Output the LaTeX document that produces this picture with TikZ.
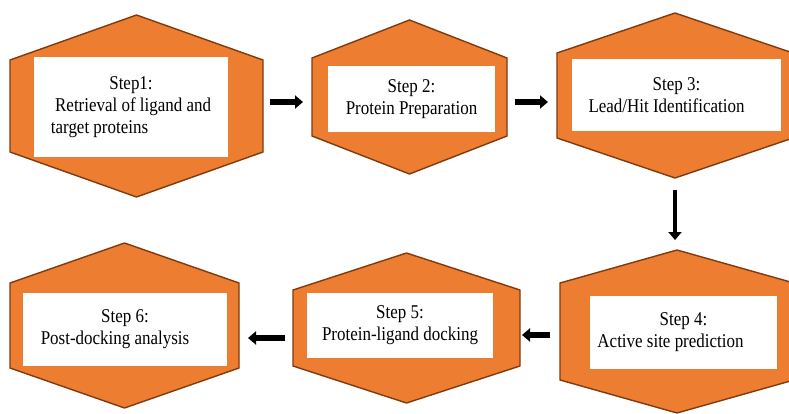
\documentclass[tikz,border=0pt]{standalone}
\usepackage{fontspec}
\setmainfont{Liberation Serif}[FakeStretch=0.87]
\usepackage{xcolor}
\usetikzlibrary{arrows.meta,backgrounds,calc}

\definecolor{stepfill}{HTML}{ED7D31}
\definecolor{stepedge}{HTML}{7F3A0E}

\begin{document}
\begin{tikzpicture}[
  x=1pt, y=-1pt,
  hexa/.style={inner sep=0pt,outer sep=0pt},
  hexfill/.style={fill=stepfill,draw=stepedge,line width=1.4pt,line join=miter},
  card/.style={fill=white,inner sep=0pt,align=center,font=\fontsize{19.5}{22}\selectfont},
  arr/.style={-{Triangle[length=8pt,width=13pt]},line width=5.5pt}
]
\useasboundingbox (0,0) rectangle (789,414);

% extents of the six hexagons
\node[hexa,minimum width=253pt,minimum height=182pt] (h1) at (136.5,106) {};
\node[hexa,minimum width=195pt,minimum height=154pt] (h2) at (409.5,97) {};
\node[hexa,minimum width=236pt,minimum height=165pt] (h3) at (675,95.5) {};
\node[hexa,minimum width=234pt,minimum height=163pt] (h4) at (677,331.5) {};
\node[hexa,minimum width=227pt,minimum height=150pt] (h5) at (406.5,328) {};
\node[hexa,minimum width=229pt,minimum height=165pt] (h6) at (124.5,325.5) {};

% white cards with the step texts
\node[card,minimum width=194pt,minimum height=100pt] (b1) at (131,107)
  {\begin{tabular}{@{}l@{}}\multicolumn{1}{@{}c@{}}{Step1:}\\\ Retrieval of ligand and\\target proteins\end{tabular}};
\node[card,minimum width=167pt,minimum height=66pt] (b2) at (411.5,99) {Step 2:\\Protein Preparation};
\node[card,minimum width=209pt,minimum height=72pt] (b3) at (676.5,95) {Step 3:\\Lead/Hit Identification\hspace*{20pt}};
\node[card,minimum width=187pt,minimum height=73pt] (b4) at (683.5,332.5) {Step 4:\\Active site prediction\hspace*{26pt}};
\node[card,minimum width=186pt,minimum height=65pt] (b5) at (400,325.5) {Step 5:\\Protein-ligand docking};
\node[card,minimum width=204pt,minimum height=73pt] (b6) at (125,329.5) {Step 6:\\Post-docking analysis\hspace*{20pt}};

\begin{scope}[on background layer]
  \foreach \h/\d in {h1/45,h2/38,h3/40,h4/33,h5/37,h6/40}
    \filldraw[hexfill] (\h.north) -- ([yshift=-\d]\h.north east) -- ([yshift=\d]\h.south east)
      -- (\h.south) -- ([yshift=\d]\h.south west) -- ([yshift=-\d]\h.north west) -- cycle;
\end{scope}

\draw[arr,shorten <=7pt,shorten >=9pt] ($(h1.east)+(0,-4)$) -- ($(h2.west |- h1.east)+(0,-4)$);
\draw[arr,shorten <=8pt,shorten >=9pt] ($(h2.east)+(0,5)$) -- ($(h3.west |- h2.east)+(0,5)$);
\draw[arr,line width=4.5pt,shorten <=12pt,shorten >=10pt] (h3.south) -- (h3.south |- h4.north);
\draw[arr,shorten <=10pt,shorten >=2pt] ($(h4.west)+(0,3.5)$) -- ($(h5.east |- h4.west)+(0,3.5)$);
\draw[arr,shorten <=8pt,shorten >=9pt] ($(h5.west)+(0,10)$) -- ($(h6.east |- h5.west)+(0,10)$);
\end{tikzpicture}
\end{document}
